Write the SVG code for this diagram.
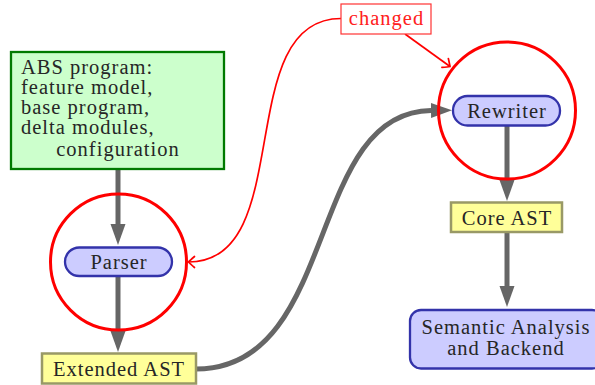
<svg xmlns="http://www.w3.org/2000/svg" width="595" height="385" viewBox="0 0 595 385">
  <style>
    text { font-family: "Liberation Serif", "DejaVu Serif", serif; font-size: 20.5px; letter-spacing: 1px; fill: #262626; }
    .mid { text-anchor: middle; }
    .flow { fill: none; stroke: #666666; stroke-width: 5; }
    .change { fill: none; stroke: #ff0000; stroke-width: 1.7; }
    .ring { fill: none; stroke: #ff0000; stroke-width: 3; }
    .input { fill: #ccffcc; stroke: #007a00; stroke-width: 2.3; }
    .proc { fill: #ccccff; stroke: #3333aa; stroke-width: 2.3; }
    .data { fill: #ffff99; stroke: #999966; stroke-width: 2.5; }
    .note { fill: #ffffff; stroke: #ff3333; stroke-width: 1.2; }
    .red { fill: #ff2020; }
  </style>
  <defs>
    <marker id="big" markerUnits="userSpaceOnUse" markerWidth="24" markerHeight="18" viewBox="0 -9 24 18" refX="0" refY="0" orient="auto">
      <path d="M 0 -7.5 L 21 0 L 0 7.5 Z" fill="#666666"/>
    </marker>
    <marker id="open" markerUnits="userSpaceOnUse" markerWidth="12" markerHeight="14" viewBox="-8 -7 10 14" refX="0" refY="0" orient="auto">
      <path d="M -6 -5.5 Q -1.5 -1.5 0 0 Q -1.5 1.5 -6 5.5" fill="none" stroke="#ff0000" stroke-width="1.7" stroke-linecap="round"/>
    </marker>
  </defs>

  <g id="connectors">
    <path class="flow" d="M 118 169 L 118 224" marker-end="url(#big)"/>
    <path class="flow" d="M 118 276 L 118 331" marker-end="url(#big)"/>
    <path class="flow" d="M 196 369 C 340 369 305 112 431 110.5" marker-end="url(#big)"/>
    <path class="flow" d="M 507 125 L 507 180" marker-end="url(#big)"/>
    <path class="flow" d="M 507 232 L 507 286" marker-end="url(#big)"/>
    <path class="change" d="M 341 18.5 C 231 18.5 298 262 188.5 262" marker-end="url(#open)"/>
    <path class="change" d="M 405 34 L 450 66.5" marker-end="url(#open)"/>
  </g>

  <g id="highlights">
    <circle id="ring-parser" class="ring" cx="118.5" cy="262" r="68"/>
    <circle id="ring-rewriter" class="ring" cx="507" cy="110.5" r="68.5"/>
  </g>

  <g font-family="Liberation Serif, DejaVu Serif, serif">
    <g id="input">
      <rect class="input" x="11" y="52" width="213" height="117"/>
      <text x="21" y="74">ABS program:</text>
      <text x="21" y="94">feature model,</text>
      <text x="21" y="114">base program,</text>
      <text x="21" y="134">delta modules,</text>
      <text class="mid" x="118" y="156">configuration</text>
    </g>

    <g id="parser">
      <rect class="proc" x="65" y="247.5" width="107" height="28.5" rx="14.25"/>
      <text class="mid" x="119" y="268.5">Parser</text>
    </g>

    <g id="extended">
      <rect class="data" x="42" y="353.5" width="154" height="30"/>
      <text class="mid" x="119" y="376">Extended AST</text>
    </g>

    <g id="changed">
      <rect class="note" x="341" y="4" width="90" height="30"/>
      <text class="mid red" x="386.5" y="25">changed</text>
    </g>

    <g id="rewriter">
      <rect class="proc" x="453" y="96" width="107" height="29.5" rx="14.5"/>
      <text class="mid" x="507" y="117.5">Rewriter</text>
    </g>

    <g id="core">
      <rect class="data" x="451" y="202.5" width="111" height="29.5"/>
      <text class="mid" x="507" y="224.5">Core AST</text>
    </g>

    <g id="semantic">
      <rect class="proc" x="410" y="310" width="193" height="58.5" rx="11"/>
      <text class="mid" x="506" y="333.5">Semantic Analysis</text>
      <text class="mid" x="506" y="354.5">and Backend</text>
    </g>
  </g>
</svg>
